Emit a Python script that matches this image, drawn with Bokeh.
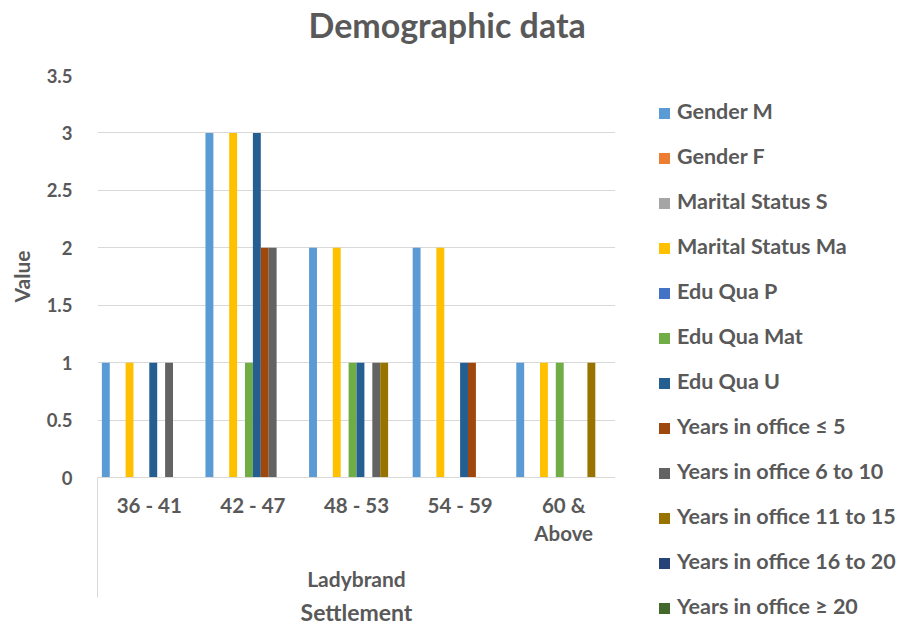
from bokeh.plotting import figure
from bokeh.layouts import row
from bokeh.models import (Range1d, LinearAxis, FixedTicker, Title,
                          ColumnDataSource, Div)
from bokeh.transform import dodge
from bokeh.embed import file_html
from bokeh.resources import INLINE

categories = ["36 - 41", "42 - 47", "48 - 53", "54 - 59", "60 &\nAbove"]
group_label = "Ladybrand"
series_names = ["Gender M", "Gender F", "Marital Status S", "Marital Status Ma",
                "Edu Qua P", "Edu Qua Mat", "Edu Qua U", "Years in office \u2264 5",
                "Years in office 6 to 10", "Years in office 11 to 15",
                "Years in office 16 to 20", "Years in office \u2265 20"]
gender_m = [1, 3, 2, 2, 1]
gender_f = [0, 0, 0, 0, 0]
marital_s = [0, 0, 0, 0, 0]
marital_ma = [1, 3, 2, 2, 1]
edu_p = [0, 0, 0, 0, 0]
edu_mat = [0, 1, 1, 0, 1]
edu_u = [1, 3, 1, 1, 0]
years_le5 = [0, 2, 0, 1, 0]
years_6_10 = [1, 2, 1, 0, 0]
years_11_15 = [0, 0, 1, 0, 1]
years_16_20 = [0, 0, 0, 0, 0]
years_ge20 = [0, 0, 0, 0, 0]
y_ticks = [0, 0.5, 1, 1.5, 2, 2.5, 3, 3.5]
y_tick_labels = ["0", "0.5", "1", "1.5", "2", "2.5", "3", "3.5"]

series_values = [gender_m, gender_f, marital_s, marital_ma, edu_p, edu_mat, edu_u,
                 years_le5, years_6_10, years_11_15, years_16_20, years_ge20]
colors = ["#5B9BD5", "#ED7D31", "#A5A5A5", "#FFC000", "#4472C4", "#70AD47",
          "#255E91", "#9E480E", "#636363", "#997300", "#264478", "#43682B"]

FONT = "Lato"
TXT = "#595959"
GRID = "#D9D9D9"

n = len(categories)
centers = [i + 0.5 for i in range(n)]

p = figure(width=615, height=628, output_backend="svg", toolbar_location=None,
           x_range=Range1d(0, n), y_range=Range1d(0, 3.5), x_axis_location=None,
           min_border_left=97, min_border_right=0, min_border_top=0,
           min_border_bottom=0)
p.outline_line_color = None

bw = 0.0763
data = {"x": centers, "cat": categories}
for i, vals in enumerate(series_values):
    data["s%d" % i] = vals
src = ColumnDataSource(data)

for i, name in enumerate(series_names):
    p.vbar(x=dodge("x", (i - 5.5) * bw), top="s%d" % i,
           width=bw, source=src, fill_color=colors[i], line_color=None)

# y axis
ya = p.yaxis[0]
ya.ticker = FixedTicker(ticks=y_ticks)
ya.major_label_overrides = {t: l for t, l in zip(y_ticks, y_tick_labels)}
ya.axis_line_color = None
ya.major_tick_line_color = None
ya.minor_tick_line_color = None
ya.major_label_standoff = 19
ya.axis_label = "Value"
ya.axis_label_standoff = 10
ya.major_label_text_font = FONT
ya.major_label_text_font_style = "bold"
ya.major_label_text_font_size = "18.5px"
ya.major_label_text_color = TXT
ya.axis_label_text_font = FONT
ya.axis_label_text_font_style = "bold"
ya.axis_label_text_font_size = "21px"
ya.axis_label_text_color = TXT

p.ygrid.grid_line_color = GRID
p.xgrid.grid_line_color = None

# category axis with box lines at both ends
xa = LinearAxis(ticker=FixedTicker(ticks=centers, minor_ticks=[0, n]))
xa.major_label_overrides = {c: l for c, l in zip(centers, categories)}
xa.axis_line_color = GRID
xa.major_tick_line_color = None
xa.major_tick_out = 0
xa.major_tick_in = 0
xa.minor_tick_line_color = GRID
xa.minor_tick_out = 0
xa.minor_tick_in = -120
xa.major_label_standoff = 15
xa.major_label_text_font = FONT
xa.major_label_text_font_style = "bold"
xa.major_label_text_font_size = "20.5px"
xa.major_label_text_color = TXT
p.add_layout(xa, "below")

ga = LinearAxis(ticker=FixedTicker(ticks=[n / 2]))
ga.major_label_overrides = {n / 2: group_label}
ga.axis_line_color = None
ga.major_tick_line_color = None
ga.minor_tick_line_color = None
ga.major_tick_out = 0
ga.major_label_standoff = 17
ga.major_label_text_font = FONT
ga.major_label_text_font_style = "bold"
ga.major_label_text_font_size = "21px"
ga.major_label_text_color = TXT
ga.axis_label = "Settlement"
ga.axis_label_standoff = 4
ga.axis_label_text_font = FONT
ga.axis_label_text_font_style = "bold"
ga.axis_label_text_font_size = "23px"
ga.axis_label_text_color = TXT
p.add_layout(ga, "below")

# invisible spacer between title and plot area
sp = LinearAxis(ticker=FixedTicker(ticks=[]))
sp.axis_line_color = None
sp.major_tick_line_color = None
sp.minor_tick_line_color = None
sp.major_tick_out = 0
sp.minor_tick_out = 0
sp.major_label_standoff = 0
sp.axis_label = "."
sp.axis_label_text_alpha = 0
sp.axis_label_text_font_size = "10px"
sp.axis_label_standoff = 15
p.add_layout(sp, "above")

p.title = Title(text="Demographic data", align="left", offset=211,
                text_font=FONT, text_font_style="bold", text_font_size="34px",
                text_color=TXT, standoff=6, vertical_align="top")

# legend panel (real text) built from the series names and colours
rows_html = []
for name, c in zip(series_names, colors):
    rows_html.append(
        '<div style="height:45px;line-height:45px;white-space:nowrap;">'
        '<span style="display:inline-block;width:11px;height:11px;'
        'background:%s;margin-right:7px;vertical-align:middle;"></span>%s</div>'
        % (c, name.replace("&", "&amp;")))
legend_html = ('<div style="font-family:Lato;font-weight:bold;font-size:21.5px;'
               'color:%s;padding:89px 0 0 44px;margin:0;">%s</div>'
               % (TXT, "".join(rows_html)))
leg_div = Div(text=legend_html, width=284, height=628, margin=0,
              styles={"overflow": "visible"})

layout = row(p, leg_div)
open("out.html", "w").write(file_html(layout, INLINE))
